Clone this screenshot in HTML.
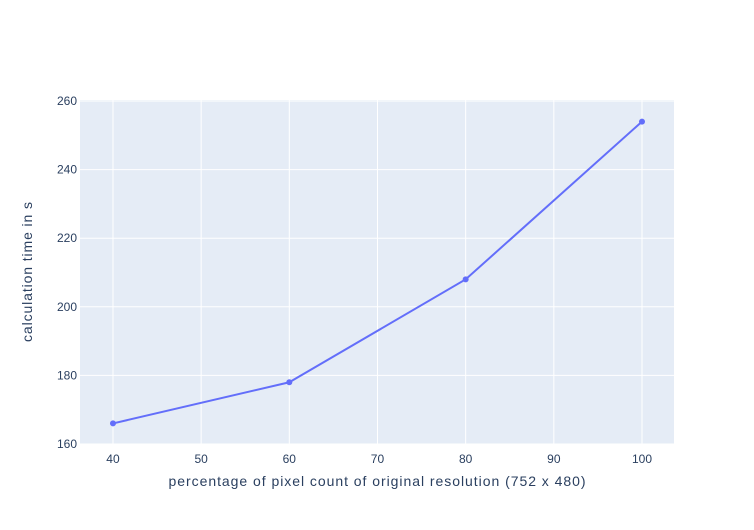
<!DOCTYPE html>
<html><head><meta charset="utf-8"><style>
body{margin:0;background:#fff;font-family:"Liberation Sans",sans-serif}
</style></head><body>
<svg id="chart" width="754" height="525" xmlns="http://www.w3.org/2000/svg" font-family="Liberation Sans, sans-serif">
<rect x="0" y="0" width="754" height="525" fill="#fff"/>
<rect x="80" y="100" width="594" height="344" fill="#e5ecf6"/>
<g id="grid"></g>
<g id="ticks"></g>
<g id="series"></g>
<text x="377" y="486" text-anchor="middle" font-size="14" fill="#2a3f5f" textLength="417" lengthAdjust="spacing">percentage of pixel count of original resolution (752 x 480)</text>
<text transform="translate(32,272) rotate(-90)" text-anchor="middle" font-size="14" fill="#2a3f5f" textLength="140" lengthAdjust="spacing">calculation time in s</text>
</svg>
<script>
const xValues=[40,60,80,100];
const yValues=[166,178,208,254];
const xTicks=[40,50,60,70,80,90,100];
const yTicks=[160,180,200,220,240,260];
const NS="http://www.w3.org/2000/svg";
const L=80,R=674,T=100,B=444;
const x0=36.26,x1=103.63,y0=160,y1=260.3;
function sx(v){return L+(v-x0)/(x1-x0)*(R-L);}
function sy(v){return B-(v-y0)/(y1-y0)*(B-T);}
function mk(tag,attrs,parent){const e=document.createElementNS(NS,tag);for(const k in attrs)e.setAttribute(k,attrs[k]);document.getElementById(parent).appendChild(e);return e;}
xTicks.forEach(t=>{
  const g=mk('line',{x1:sx(t),x2:sx(t),y1:T,y2:B,stroke:'#fff','stroke-width':1},'grid');
  
  
  const l=mk('text',{x:sx(t),y:B+19,'text-anchor':'middle','font-size':12,fill:'#2a3f5f'},'ticks');
  l.textContent=t;
  
  
});
yTicks.forEach(t=>{
  const g=mk('line',{x1:L,x2:R,y1:sy(t),y2:sy(t),stroke:'#fff','stroke-width':1},'grid');
  
  
  const l=mk('text',{x:L-3,y:sy(t)+4,'text-anchor':'end','font-size':12,fill:'#2a3f5f'},'ticks');
  l.textContent=t;
  
  
});
const pts=xValues.map((v,i)=>sx(v)+','+sy(yValues[i])).join(' ');
const line=mk('polyline',{points:pts,fill:'none',stroke:'#636efa','stroke-width':2},'series');


xValues.forEach((v,i)=>{
  const c=mk('circle',{cx:sx(v),cy:sy(yValues[i]),r:3,fill:'#636efa'},'series');
  
  
});
</script>
</body></html>
